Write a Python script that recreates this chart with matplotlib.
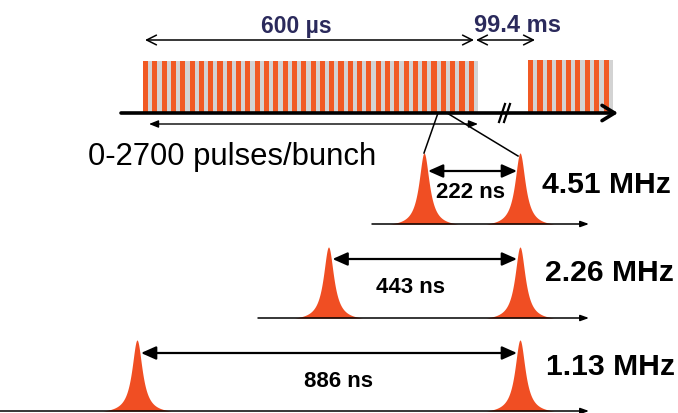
import numpy as np
import matplotlib
matplotlib.use("Agg")
import matplotlib.pyplot as plt
from matplotlib.patches import Rectangle

# ---- data ----
spacings_ns = [222, 443, 886]
freq_labels = ["4.51 MHz", "2.26 MHz", "1.13 MHz"]
spacing_labels = ["222 ns", "443 ns", "886 ns"]
train_label = "600 µs"
gap_label = "99.4 ms"
bunch_label = "0-2700 pulses/bunch"
n_stripes_train = 36
n_stripes_next = 9

# ---- style / layout ----
ORANGE = "#f15a24"
PEAK = "#f04e23"
GREY = "#d3d3d3"
NAVY = "#2b2a5c"
FONT = "Liberation Sans"

W, H = 678, 414
fig = plt.figure(figsize=(W / 100, H / 100), dpi=100)
ax = fig.add_axes([0, 0, 1, 1])
ax.set_xlim(0, W)
ax.set_ylim(H, 0)
ax.axis("off")

def arrow(x0, y0, x1, y1, style, lw, color="black", **kw):
    ax.annotate("", xy=(x1, y1), xytext=(x0, y0),
                arrowprops=dict(arrowstyle=style, lw=lw, color=color,
                                shrinkA=0, shrinkB=0, **kw))

# ---- pulse trains ----
def train(x0, x1, y_top, y_bot, n):
    ax.add_patch(Rectangle((x0, y_top), x1 - x0, y_bot - y_top,
                           facecolor=GREY, edgecolor="none", zorder=1))
    period = (x1 - x0) / n
    xs = x0 + period * np.arange(n)
    ax.bar(xs, y_bot - y_top, width=period * 0.55, bottom=y_top,
           align="edge", color=ORANGE, edgecolor="none", zorder=2)

train(143, 478, 62, 113, n_stripes_train)
train(528, 613, 61, 113, n_stripes_next)

# main time axis
arrow(121, 114, 618, 114, "->,head_length=0.9,head_width=0.55", 2.6)
for dx in (-3, 2):
    ax.plot([505 + dx - 3, 505 + dx + 3], [123, 105], color="black", lw=1.6, zorder=5)

# top dimension arrows
arrow(145, 41, 474, 41, "<->,head_length=0.7,head_width=0.35", 1.1)
arrow(476, 41, 535, 41, "<->,head_length=0.7,head_width=0.35", 1.1)
ax.text(296, 27, train_label, ha="center", va="center", fontsize=16.5,
        fontweight="bold", color=NAVY, family=FONT)
ax.text(518, 25, gap_label, ha="center", va="center", fontsize=17,
        fontweight="bold", color=NAVY, family=FONT)

# bunch length arrow below axis
arrow(149, 125, 478, 125, "<|-|>,head_length=0.55,head_width=0.22", 1.0)
ax.text(88, 157, bunch_label, ha="left", va="center", fontsize=22.3,
        color="black", family=FONT)

# zoom lines
ax.plot([438, 424], [114, 154], color="black", lw=1.1, zorder=5)
ax.plot([447, 518], [114, 157], color="black", lw=1.1, zorder=5)

# ---- bunch spacing rows ----
px_per_ns = (520 - 137) / 886
right_peak = 520
peak_h = 71
gamma = 6.3
half = 34
base_y = [225, 319, 412]
base_x0 = [372, 258, 0]
arrow_y = [172, 260, 354]
lab_xy = [(471, 193), (410, 288), (338, 382)]
freq_xy = [(542, 185), (545, 273), (546, 367)]

d = np.linspace(-half, half, 400)
prof = 1 / (1 + (d / gamma) ** 2)
prof = (prof - prof[0]) / (1 - prof[0])

for i, sp in enumerate(spacings_ns):
    by = base_y[i]
    xl = right_peak - sp * px_per_ns
    for xc in (xl, right_peak):
        ax.fill_between(xc + d, by, by - peak_h * prof, color=PEAK,
                        linewidth=0, zorder=2)
    arrow(base_x0[i], by, 589, by, "-|>,head_length=0.5,head_width=0.18", 1.1)
    arrow(xl + 4, arrow_y[i], right_peak - 3, arrow_y[i],
          "<|-|>,head_length=0.9,head_width=0.4", 1.6)
    ax.text(*lab_xy[i], spacing_labels[i], ha="center", va="center",
            fontsize=16, fontweight="bold", family=FONT)
    ax.text(*freq_xy[i], freq_labels[i], ha="left", va="center",
            fontsize=21.7, fontweight="bold", family=FONT)

fig.savefig("out.png", dpi=100)
